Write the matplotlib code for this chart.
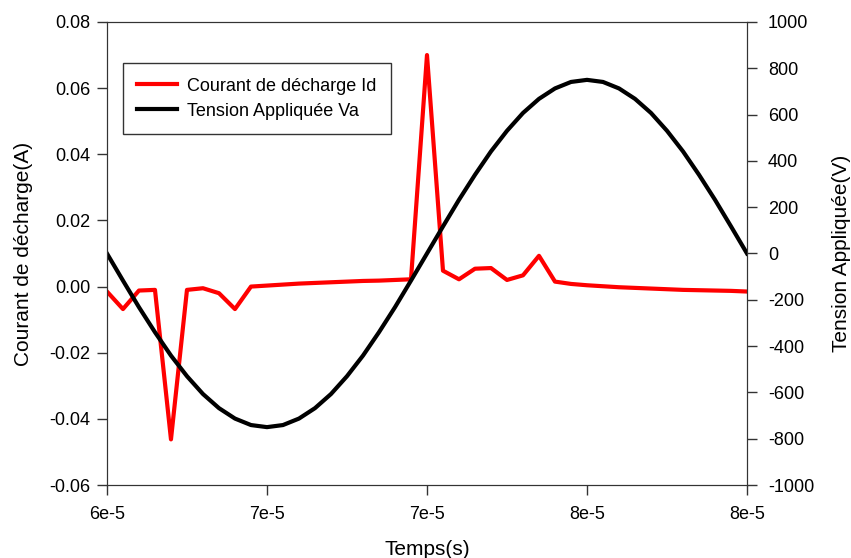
import matplotlib
matplotlib.use("Agg")
import matplotlib.pyplot as plt
from matplotlib.lines import Line2D
import numpy as np

plt.rcParams["font.family"] = ["Liberation Sans", "DejaVu Sans"]
plt.rcParams["axes.unicode_minus"] = False

# time axis, step 5e-7 s
time_s = np.linspace(6e-5, 8e-5, 41)

# discharge current (A)
current_a = [
    -0.0015, -0.0068, -0.0012, -0.0010, -0.0462, -0.0010, -0.0005, -0.0020,
    -0.0068, 0.0000, 0.0003, 0.0006, 0.0009, 0.0011, 0.0013, 0.0015,
    0.0017, 0.0018, 0.0020, 0.0022, 0.0700, 0.0048, 0.0022, 0.0054,
    0.0056, 0.0020, 0.0034, 0.0093, 0.0015, 0.0008, 0.0004, 0.0001,
    -0.0002, -0.0004, -0.0006, -0.0008, -0.0010, -0.0011, -0.0012, -0.0013,
    -0.0015,
]

# applied voltage (V)
voltage_v = [
    0, -117, -232, -340, -441, -530, -607, -668, -713, -741, -750,
    -741, -713, -668, -607, -530, -441, -340, -232, -117, 0,
    117, 232, 340, 441, 530, 607, 668, 713, 741, 750,
    741, 713, 668, 607, 530, 441, 340, 232, 117, 0,
]

x_ticks = [6e-5, 6.5e-5, 7e-5, 7.5e-5, 8e-5]
x_tick_labels = ["6e-5", "7e-5", "7e-5", "8e-5", "8e-5"]
left_ticks = [-0.06, -0.04, -0.02, 0.00, 0.02, 0.04, 0.06, 0.08]
right_ticks = [-1000, -800, -600, -400, -200, 0, 200, 400, 600, 800, 1000]

fig = plt.figure(figsize=(8.51, 5.58), dpi=100)
ax = fig.add_axes([0.1257, 0.1308, 0.7521, 0.8298])
ax2 = ax.twinx()

ax.plot(time_s, current_a, color="#ff0000", linewidth=3)
ax2.plot(time_s, voltage_v, color="black", linewidth=3)

ax.set_xlim(6e-5, 8e-5)
ax.set_ylim(-0.06, 0.08)
ax2.set_ylim(-1000, 1000)

ax.set_xticks(x_ticks)
ax.set_xticklabels(x_tick_labels)
ax.set_yticks(left_ticks)
ax.set_yticklabels([f"{v:.2f}" for v in left_ticks])
ax2.set_yticks(right_ticks)

for a in (ax, ax2):
    a.tick_params(direction="out", length=7, width=1, labelsize=13, color="#333333")
    for sp in a.spines.values():
        sp.set_color("#333333")
ax.tick_params(axis="x", pad=8)
ax.tick_params(axis="y", pad=5)
ax2.tick_params(axis="y", pad=8)

ax.set_xlabel("Temps(s)", fontsize=15, labelpad=12)
ax.set_ylabel("Courant de décharge(A)", fontsize=15, labelpad=12)
ax2.set_ylabel("Tension Appliquée(V)", fontsize=15, labelpad=13)

handles = [
    Line2D([], [], color="#ff0000", linewidth=3),
    Line2D([], [], color="black", linewidth=3),
]
leg = ax.legend(
    handles,
    ["Courant de décharge Id", "Tension Appliquée Va"],
    loc="upper left",
    bbox_to_anchor=(0.025, 0.911),
    borderaxespad=0,
    fontsize=13,
    frameon=True,
    fancybox=False,
    handlelength=2.2,
    handletextpad=0.55,
    labelspacing=0.45,
    borderpad=0.8,
)
leg.get_frame().set_edgecolor("black")
leg.get_frame().set_linewidth(1)
leg.set_zorder(5)

fig.savefig("out.png", dpi=100)
